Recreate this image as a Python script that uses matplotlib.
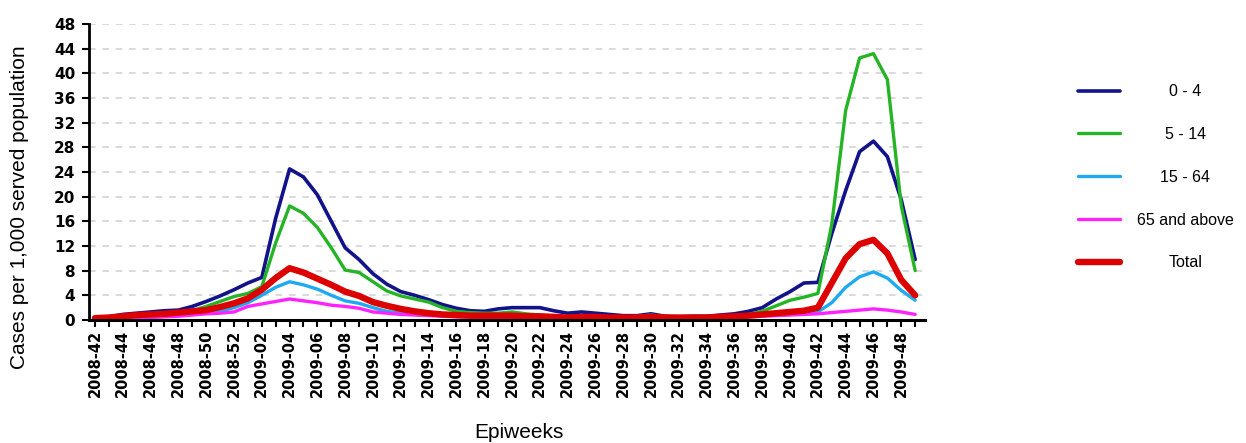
import numpy as np
import matplotlib
matplotlib.use('Agg')
import matplotlib.pyplot as plt

# epiweeks 2008-42 .. 2009-49
weeks = [f'2008-{w}' for w in range(42, 53)] + [f'2009-{w:02d}' for w in range(1, 50)]

age_0_4 = [0.3, 0.5, 0.9, 1.1, 1.3, 1.5, 1.6, 2.2, 3.0, 3.9,
           4.9, 6.0, 6.9, 16.5, 24.5, 23.2, 20.3, 16.0, 11.7, 9.8,
           7.5, 5.8, 4.6, 4.0, 3.3, 2.5, 1.9, 1.5, 1.4, 1.8,
           2.0, 2.0, 2.0, 1.5, 1.1, 1.3, 1.1, 0.9, 0.7, 0.7,
           1.0, 0.6, 0.5, 0.6, 0.6, 0.8, 1.0, 1.4, 2.0, 3.4,
           4.6, 6.0, 6.1, 14.0, 21.0, 27.3, 29.0, 26.5, 19.5, 9.8]
age_5_14 = [0.3, 0.4, 0.6, 0.8, 0.9, 1.0, 1.2, 1.5, 2.2, 3.0,
            3.8, 4.3, 5.4, 12.5, 18.5, 17.3, 15.0, 11.7, 8.1, 7.7,
            6.2, 4.7, 3.9, 3.4, 2.9, 2.0, 1.4, 1.2, 1.1, 1.1,
            1.3, 1.0, 0.8, 0.6, 0.5, 0.5, 0.5, 0.5, 0.5, 0.6,
            0.8, 0.5, 0.4, 0.4, 0.4, 0.5, 0.6, 0.9, 1.4, 2.3,
            3.2, 3.7, 4.3, 15.5, 34.0, 42.5, 43.2, 39.0, 18.5, 8.0]
age_15_64 = [0.3, 0.3, 0.4, 0.5, 0.6, 0.7, 0.8, 0.9, 1.1, 1.4,
             2.0, 2.8, 4.0, 5.3, 6.2, 5.7, 5.0, 4.0, 3.1, 2.7,
             2.0, 1.4, 1.1, 0.9, 0.8, 0.7, 0.6, 0.5, 0.5, 0.5,
             0.5, 0.5, 0.5, 0.4, 0.4, 0.4, 0.4, 0.4, 0.4, 0.4,
             0.4, 0.4, 0.4, 0.4, 0.4, 0.4, 0.5, 0.6, 0.7, 0.8,
             0.9, 1.0, 1.3, 2.8, 5.3, 7.0, 7.8, 6.8, 4.8, 3.2]
age_65 = [0.2, 0.2, 0.3, 0.3, 0.4, 0.5, 0.6, 0.8, 1.0, 1.1,
          1.3, 2.2, 2.6, 3.0, 3.4, 3.1, 2.8, 2.4, 2.2, 1.9,
          1.3, 1.1, 0.9, 0.8, 0.7, 0.6, 0.5, 0.5, 0.4, 0.4,
          0.4, 0.4, 0.4, 0.4, 0.4, 0.4, 0.4, 0.4, 0.4, 0.4,
          0.4, 0.4, 0.4, 0.4, 0.4, 0.4, 0.5, 0.5, 0.6, 0.7,
          0.8, 0.9, 1.0, 1.2, 1.4, 1.6, 1.8, 1.6, 1.3, 0.9]
total = [0.3, 0.4, 0.6, 0.8, 0.9, 1.0, 1.2, 1.4, 1.6, 2.1,
         2.7, 3.5, 4.9, 6.8, 8.4, 7.7, 6.7, 5.7, 4.6, 3.9,
         2.9, 2.3, 1.8, 1.4, 1.1, 0.9, 0.8, 0.7, 0.7, 0.7,
         0.7, 0.6, 0.6, 0.5, 0.4, 0.5, 0.5, 0.4, 0.4, 0.4,
         0.5, 0.4, 0.4, 0.4, 0.4, 0.5, 0.6, 0.7, 0.9, 1.1,
         1.3, 1.5, 2.0, 6.0, 10.0, 12.3, 13.0, 10.8, 6.5, 4.0]

series = [
    (age_0_4, '0 - 4', '#12128a', 2.6),
    (age_5_14, '5 - 14', '#25b425', 2.4),
    (age_15_64, '15 - 64', '#1eaaf0', 2.4),
    (age_65, '65 and above', '#ff22ff', 2.4),
    (total, 'Total', '#dd0000', 4.6),
]

fig = plt.figure(figsize=(12.46, 4.43), dpi=100)
ax = fig.add_axes([0.0714, 0.2777, 0.6709, 0.668])

x = np.arange(len(weeks))
for vals, label, color, lw in series:
    ax.plot(x, vals, color=color, lw=lw, label=label,
            solid_joinstyle='round', solid_capstyle='round')

ax.set_xlim(-0.43, 59.7)
ax.set_ylim(0, 48)
ax.set_yticks(range(0, 49, 4))
ax.set_xticks(x[::2])
ax.set_xticklabels(weeks[::2], rotation=90, fontweight='bold', fontsize=10.5)
ax.set_xticks(x[1::2], minor=True)
ax.tick_params(axis='x', which='both', length=5, width=1.5, pad=2)
ax.tick_params(axis='y', length=5, width=1.5, pad=5, labelsize=11)
for lab in ax.get_yticklabels():
    lab.set_fontweight('bold')

ax.spines['top'].set_visible(False)
ax.spines['right'].set_visible(False)
ax.spines['left'].set_linewidth(2)
ax.spines['bottom'].set_linewidth(2.2)
ax.yaxis.grid(True, linestyle=(0, (4, 4)), color='#d3d3d3', lw=1.2)
ax.set_axisbelow(True)

fig.text(20 / 1246, 1 - 207 / 443, 'Cases per 1,000 served population', rotation=90,
         ha='center', va='center', fontsize=15, family='Liberation Sans')
fig.text(519 / 1246, 1 - 432 / 443, 'Epiweeks', ha='center', va='center',
         fontsize=15, family='Liberation Sans')

leg = fig.legend(loc='upper left', bbox_to_anchor=(0.865, 0.810), frameon=False,
                 prop={'family': 'Liberation Sans', 'size': 11.5},
                 handlelength=2.63, handletextpad=1.06, labelspacing=1.74,
                 borderpad=0, borderaxespad=0)

# centre the legend labels on one column, like the original
fig.canvas.draw()
texts = leg.get_texts()
widths = [t.get_window_extent().width for t in texts]
wmax = max(widths)
for t, w in zip(texts, widths):
    t.set_x((wmax - w) / 2)

fig.savefig('out.png', dpi=100)
